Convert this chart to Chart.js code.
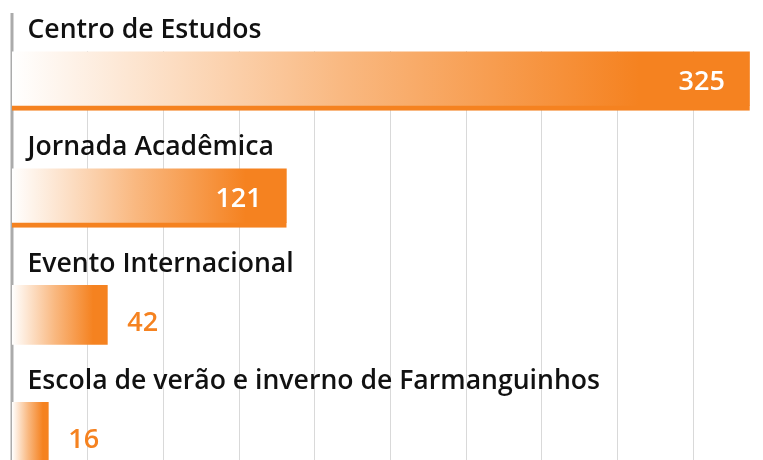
<!DOCTYPE html>
<html>
<head>
<meta charset="utf-8">
<script src="https://cdn.jsdelivr.net/npm/chart.js@4.4.1/dist/chart.umd.min.js"></script>
<style>
  html, body { margin: 0; padding: 0; background: #ffffff; overflow: hidden; }
  #wrap { position: relative; width: 763px; height: 460px; }
</style>
</head>
<body>
<div id="wrap"><canvas id="c" width="763" height="460"></canvas></div>
<script>
const categories = ['Centro de Estudos', 'Jornada Acadêmica', 'Evento Internacional', 'Escola de verão e inverno de Farmanguinhos'];
const values = [325, 121, 42, 16];
const gridStep = 100 / 3;
const xMax = 330.8;
const orange = '#F58220';

function barGradient(context) {
  const chart = context.chart;
  const area = chart.chartArea;
  if (!area || !chart.scales.x) return orange;
  const xs = chart.scales.x;
  const x0 = xs.getPixelForValue(0);
  const x1 = xs.getPixelForValue(values[context.dataIndex]);
  const g = chart.ctx.createLinearGradient(x0, 0, x1, 0);
  g.addColorStop(0, '#ffffff');
  g.addColorStop(0.45, '#F9B880');
  g.addColorStop(0.85, orange);
  g.addColorStop(1, orange);
  return g;
}

const labelPlugin = {
  id: 'labelPlugin',
  beforeDatasetsDraw(chart) {
    const ctx = chart.ctx;
    const xs = chart.scales.x;
    const x = xs.getPixelForValue(0);
    ctx.save();
    ctx.strokeStyle = '#ABABAB';
    ctx.lineWidth = 3;
    ctx.beginPath();
    ctx.moveTo(x, 13);
    ctx.lineTo(x, chart.chartArea.bottom);
    ctx.stroke();
    ctx.restore();
  },
  afterDatasetsDraw(chart) {
    const ctx = chart.ctx;
    const meta = chart.getDatasetMeta(0);
    const left = chart.scales.x.getPixelForValue(0);
    ctx.save();
    meta.data.forEach((el, i) => {
      ctx.font = '600 26.6px "Open Sans"';
      ctx.fillStyle = '#111111';
      ctx.textAlign = 'left';
      ctx.textBaseline = 'alphabetic';
      ctx.fillText(categories[i], left + 15.5, el.y - 43);
      ctx.font = '600 27px "Open Sans"';
      if (el.x - left > 150) {
        ctx.fillStyle = '#ffffff';
        ctx.textAlign = 'right';
        ctx.textBaseline = 'middle';
        ctx.fillText(String(values[i]), el.x - 25, el.y + 1);
      } else {
        ctx.fillStyle = orange;
        ctx.textAlign = 'left';
        ctx.textBaseline = 'middle';
        ctx.fillText(String(values[i]), el.x + 20, el.y + 8);
      }
    });
    ctx.restore();
  }
};

new Chart(document.getElementById('c'), {
  type: 'bar',
  data: {
    datasets: [{
      data: values.map((v, i) => ({ x: v, y: i })),
      backgroundColor: barGradient,
      borderColor: orange,
      borderWidth: (ctx) => ctx.dataIndex < 2 ? { top: 0, right: 0, bottom: 5, left: 0 } : 0,
      borderSkipped: false,
      barThickness: 59
    }]
  },
  options: {
    indexAxis: 'y',
    responsive: false,
    animation: false,
    layout: { padding: { top: 51, left: 12, right: 0, bottom: 0 } },
    plugins: { legend: { display: false }, tooltip: { enabled: false } },
    scales: {
      x: {
        type: 'linear',
        min: 0,
        max: xMax,
        offset: false,
        ticks: { display: false, stepSize: gridStep },
        afterBuildTicks: (scale) => {
          scale.ticks = scale.ticks.filter(t => Math.abs(t.value / gridStep - Math.round(t.value / gridStep)) < 1e-6 && t.value > 0);
        },
        afterFit: (scale) => { scale.height = 0; },
        grid: { color: '#D9D9D9', lineWidth: 1, drawTicks: false },
        border: { display: false }
      },
      y: {
        type: 'linear',
        reverse: true,
        offset: false,
        min: -0.256,
        max: 3.24,
        display: false
      }
    }
  },
  plugins: [labelPlugin]
});
</script>
</body>
</html>
